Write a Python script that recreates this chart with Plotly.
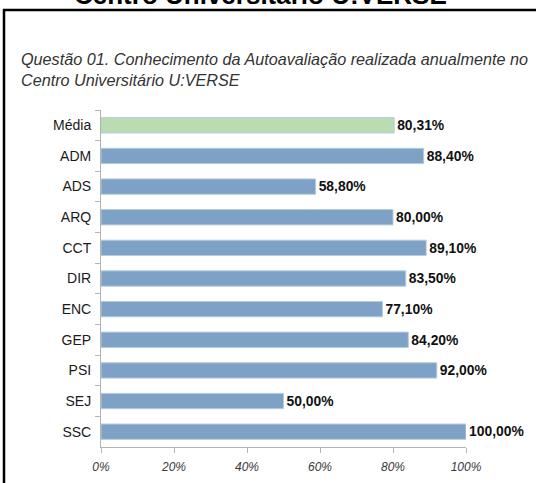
import plotly.graph_objects as go

categories = ["Média", "ADM", "ADS", "ARQ", "CCT", "DIR", "ENC", "GEP", "PSI", "SEJ", "SSC"]
values = [80.31, 88.40, 58.80, 80.00, 89.10, 83.50, 77.10, 84.20, 92.00, 50.00, 100.00]
bar_colors = ["#b9ddb0"] + ["#7ea2c5"] * 10
x_ticks = [0, 20, 40, 60, 80, 100]
x_tick_labels = ["0%", "20%", "40%", "60%", "80%", "100%"]
labels = [f"{v:.2f}".replace(".", ",") + "%" for v in values]

W, H = 536, 483
L, R, T, B = 101, 70, 110, 36
plot_h = H - T - B
plot_w = W - L - R
FONT = "Liberation Sans, Arial, sans-serif"


def px_x(p):
    return (p - L) / plot_w


def px_y(q):
    return (H - B - q) / plot_h


fig = go.Figure(
    go.Bar(
        y=categories,
        x=values,
        orientation="h",
        marker=dict(color=bar_colors, line=dict(color="#b4cbe0", width=1)),
        text=labels,
        texttemplate="<b>%{text}</b>",
        textposition="outside",
        textfont=dict(family=FONT, size=14.5, color="#111111"),
        cliponaxis=False,
        width=0.5,
        hoverinfo="skip",
    )
)

fig.update_layout(
    width=W,
    height=H,
    margin=dict(l=L, r=R, t=T, b=B, autoexpand=False),
    paper_bgcolor="white",
    plot_bgcolor="white",
    showlegend=False,
    font=dict(family=FONT, color="#222222"),
    xaxis=dict(
        range=[0, 100],
        tickvals=x_ticks,
        ticktext=x_tick_labels,
        showgrid=False,
        zeroline=False,
        showline=True,
        linecolor="#b3b3b3",
        linewidth=1,
        ticks="outside",
        ticklen=5,
        tickcolor="#b3b3b3",
        ticklabelstandoff=4,
        tickfont=dict(size=12, color="#3a3a3a", style="italic"),
        automargin=False,
        fixedrange=True,
    ),
    yaxis=dict(
        categoryorder="array",
        categoryarray=categories,
        autorange="reversed",
        showgrid=False,
        zeroline=False,
        showline=True,
        linecolor="#b3b3b3",
        linewidth=1,
        ticks="outside",
        tickson="boundaries",
        ticklen=5,
        tickcolor="#b3b3b3",
        ticklabelstandoff=6,
        tickfont=dict(size=14, color="#1a1a1a"),
        automargin=False,
        fixedrange=True,
    ),
    shapes=[
        dict(
            type="rect",
            xref="paper",
            yref="paper",
            x0=px_x(4),
            x1=px_x(560),
            y0=px_y(510),
            y1=px_y(10),
            line=dict(color="black", width=2.5),
            fillcolor="rgba(0,0,0,0)",
            layer="below",
        )
    ],
    annotations=[
        dict(
            text="<b>Centro Universitário U:VERSE</b>",
            xref="paper",
            yref="paper",
            x=px_x(260),
            y=px_y(12),
            xanchor="center",
            yanchor="bottom",
            showarrow=False,
            font=dict(size=26, color="black", family=FONT),
        ),
        dict(
            text="Questão 01. Conhecimento da Autoavaliação realizada anualmente no<br>Centro Universitário U:VERSE",
            xref="paper",
            yref="paper",
            x=px_x(19),
            y=px_y(48),
            xanchor="left",
            yanchor="top",
            align="left",
            showarrow=False,
            font=dict(size=16.2, color="#333333", family=FONT, style="italic"),
        ),
    ],
)

fig.write_html(
    "out.html",
    config={"displayModeBar": False, "staticPlot": True},
    post_script="document.body.style.margin='0';document.body.style.padding='0';",
)
